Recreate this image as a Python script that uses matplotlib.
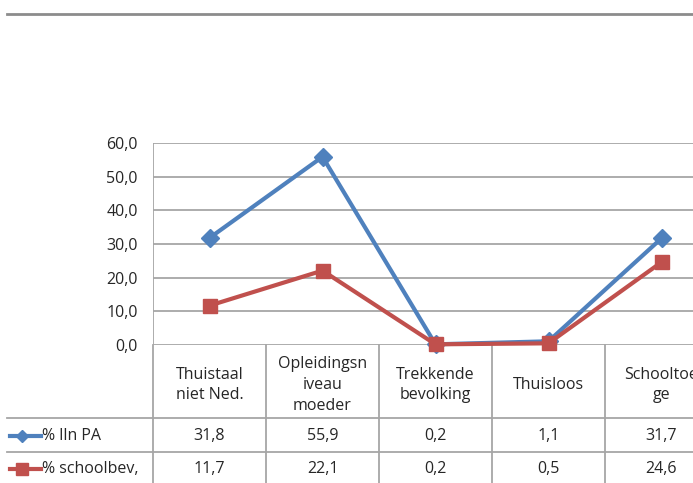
import matplotlib
matplotlib.use("Agg")
import matplotlib.pyplot as plt
from matplotlib.lines import Line2D

categories = ["Thuistaal\nniet Ned.", "Opleidingsn\niveau\nmoeder", "Trekkende\nbevolking", "Thuisloos", "Schooltoe\nge"]
series_names = ["% lln PA", "% schoolbev,"]
lln_pa = [31.8, 55.9, 0.2, 1.1, 31.7]
schoolbev = [11.7, 22.1, 0.2, 0.5, 24.6]
yticks = [0, 10, 20, 30, 40, 50, 60]

plt.rcParams['font.family'] = ['Open Sans', 'DejaVu Sans']
FS = 11.5

W, H = 693, 483
fig = plt.figure(figsize=(W / 100, H / 100), dpi=100)

left_px, right_px = 153, 693
top_px, bottom_px = 143, 345
colw = 113.0
ax = fig.add_axes([left_px / W, (H - bottom_px) / H, (right_px - left_px) / W, (bottom_px - top_px) / H])
ax.set_xlim(-0.5, -0.5 + (right_px - left_px) / colw)
ax.set_ylim(0, 60)

grid_c = '#a6a6a6'
text_c = '#262626'
blue = '#4F81BD'
red = '#C0504D'

for s in ax.spines.values():
    s.set_visible(False)
ax.set_xticks([])
ax.set_yticks(yticks)
ax.set_yticklabels([f"{v:.1f}".replace('.', ',') for v in yticks], fontsize=FS, color=text_c)
ax.tick_params(axis='y', length=0, pad=11)
for v in yticks:
    ax.axhline(v, color=grid_c, lw=1.3, zorder=1)
ax.axvline(-0.5, color=grid_c, lw=1.3, zorder=1)

x = list(range(len(categories)))
ax.plot(x, lln_pa, color=blue, lw=3, marker='D', ms=9, zorder=3, clip_on=False)
ax.plot(x, schoolbev, color=red, lw=3, marker='s', ms=10.5, zorder=4, clip_on=False)

# data table below
tr = ax.get_xaxis_transform()
ax_h = bottom_px - top_px
def ay(py):
    return -(py - bottom_px) / ax_h

x_left = -0.5 + (7 - left_px) / colw
x_right = -0.5 + (right_px - left_px) / colw
for py in [418, 452]:
    ax.add_line(Line2D([x_left, x_right], [ay(py), ay(py)], transform=tr, color=grid_c, lw=1.3, clip_on=False))
for i in range(len(categories) + 1):
    xb = i - 0.5
    ax.add_line(Line2D([xb, xb], [0, ay(H + 5)], transform=tr, color=grid_c, lw=1.3, clip_on=False))

for i, c in enumerate(categories):
    ax.text(i, ay(385), c, transform=tr, ha='center', va='center', fontsize=FS, color=text_c,
            linespacing=1.4, clip_on=False)

rows = [lln_pa, schoolbev]
row_y = [436, 469]
for vals, py in zip(rows, row_y):
    for i, v in enumerate(vals):
        ax.text(i, ay(py), f"{v:.1f}".replace('.', ','), transform=tr, ha='center', va='center',
                fontsize=FS, color=text_c, clip_on=False)

# legend keys in row headers
keys = [(blue, 'D', 6.5), (red, 's', 8.5)]
for (col, mk, ms), name, py in zip(keys, series_names, row_y):
    fy = (H - py) / H
    fig.add_artist(Line2D([10 / W, 41 / W], [fy, fy], transform=fig.transFigure, color=col, lw=3))
    fig.add_artist(Line2D([22 / W], [fy], transform=fig.transFigure, color=col, marker=mk, ms=ms, lw=0))
    fig.text(42 / W, fy, name, ha='left', va='center', fontsize=FS, color=text_c)

# top line
fig.add_artist(Line2D([7 / W, 1.0], [(H - 13.5) / H, (H - 13.5) / H], transform=fig.transFigure, color='#8c8c8c', lw=2))

fig.savefig("out.png", dpi=100, facecolor='white')
